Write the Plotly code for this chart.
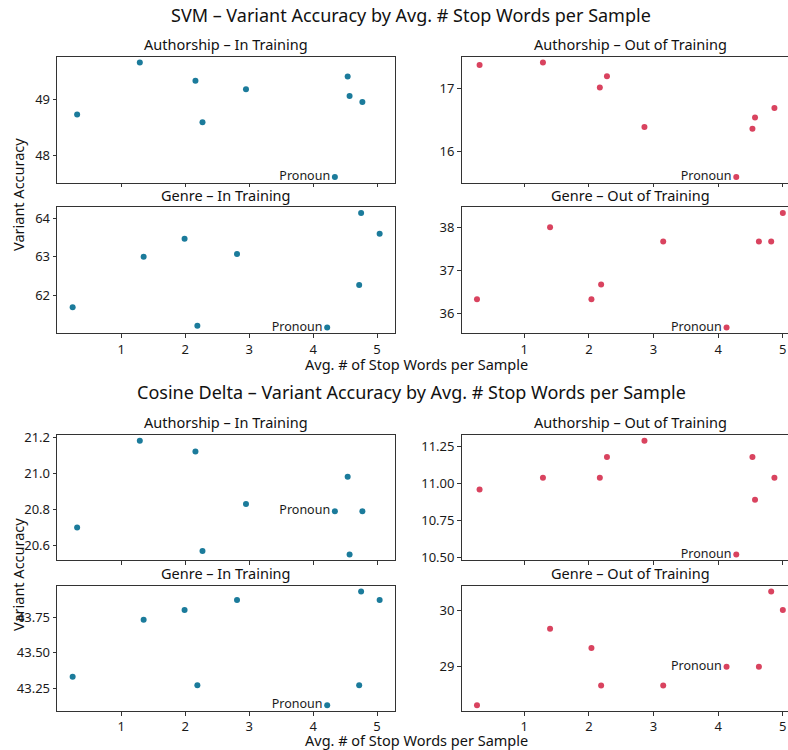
import plotly.graph_objects as go

# ---------------- data ----------------
# x: avg. # of stop words per sample; y: variant accuracy
svm_auth_in_x = [0.31, 1.29, 2.16, 2.27, 2.95, 4.34, 4.54, 4.57, 4.77]
svm_auth_in_y = [48.73, 49.66, 49.33, 48.59, 49.18, 47.61, 49.41, 49.06, 48.95]
svm_auth_in_lab = ["", "", "", "", "", "Pronoun", "", "", ""]

svm_auth_out_x = [0.31, 1.29, 2.17, 2.28, 2.86, 4.28, 4.53, 4.57, 4.87]
svm_auth_out_y = [17.38, 17.42, 17.02, 17.20, 16.39, 15.59, 16.36, 16.54, 16.69]
svm_auth_out_lab = ["", "", "", "", "", "Pronoun", "", "", ""]

svm_genre_in_x = [0.24, 1.35, 1.99, 2.19, 2.81, 4.22, 4.72, 4.75, 5.04]
svm_genre_in_y = [61.68, 63.00, 63.47, 61.20, 63.07, 61.15, 62.26, 64.14, 63.60]
svm_genre_in_lab = ["", "", "", "", "", "Pronoun", "", "", ""]

svm_genre_out_x = [0.27, 1.40, 2.04, 2.19, 3.15, 4.13, 4.63, 4.82, 5.00]
svm_genre_out_y = [36.33, 38.00, 36.33, 36.67, 37.67, 35.67, 37.67, 37.67, 38.33]
svm_genre_out_lab = ["", "", "", "", "", "Pronoun", "", "", ""]

cos_auth_in_x = [0.31, 1.29, 2.16, 2.27, 2.95, 4.34, 4.54, 4.57, 4.77]
cos_auth_in_y = [20.70, 21.18, 21.12, 20.57, 20.83, 20.79, 20.98, 20.55, 20.79]
cos_auth_in_lab = ["", "", "", "", "", "Pronoun", "", "", ""]

cos_auth_out_x = [0.31, 1.29, 2.17, 2.28, 2.86, 4.28, 4.53, 4.57, 4.87]
cos_auth_out_y = [10.96, 11.04, 11.04, 11.18, 11.29, 10.52, 11.18, 10.89, 11.04]
cos_auth_out_lab = ["", "", "", "", "", "Pronoun", "", "", ""]

cos_genre_in_x = [0.24, 1.35, 1.99, 2.19, 2.81, 4.22, 4.72, 4.75, 5.04]
cos_genre_in_y = [43.33, 43.73, 43.80, 43.27, 43.87, 43.13, 43.27, 43.93, 43.87]
cos_genre_in_lab = ["", "", "", "", "", "Pronoun", "", "", ""]

cos_genre_out_x = [0.27, 1.40, 2.04, 2.19, 3.15, 4.13, 4.63, 4.82, 5.00]
cos_genre_out_y = [28.32, 29.67, 29.33, 28.67, 28.67, 29.00, 29.00, 30.33, 30.00]
cos_genre_out_lab = ["", "", "", "", "", "Pronoun", "", "", ""]

suptitles = ["SVM – Variant Accuracy by Avg. # Stop Words per Sample",
             "Cosine Delta – Variant Accuracy by Avg. # Stop Words per Sample"]
panel_titles = ["Authorship – In Training", "Authorship – Out of Training",
                "Genre – In Training", "Genre – Out of Training"]
x_label = "Avg. # of Stop Words per Sample"
y_label = "Variant Accuracy"
x_ticks = [1, 2, 3, 4, 5]
y_ticks = [[48, 49], [16, 17], [61, 62, 63, 64], [36, 37, 38],
           [20.6, 20.8, 21.0, 21.2], [10.5, 10.75, 11.0, 11.25],
           [43.25, 43.5, 43.75], [29, 30]]
y_fmt = ["", "", "", "", ".1f", ".2f", ".2f", ""]

BLUE = "#1b7b9b"
RED = "#d9435f"
FONT = "Noto Sans"
W, H = 788, 750

panels = [
    # (x, y, labels, color, col, row)
    (svm_auth_in_x, svm_auth_in_y, svm_auth_in_lab, BLUE, 0, 0),
    (svm_auth_out_x, svm_auth_out_y, svm_auth_out_lab, RED, 1, 0),
    (svm_genre_in_x, svm_genre_in_y, svm_genre_in_lab, BLUE, 0, 1),
    (svm_genre_out_x, svm_genre_out_y, svm_genre_out_lab, RED, 1, 1),
    (cos_auth_in_x, cos_auth_in_y, cos_auth_in_lab, BLUE, 0, 2),
    (cos_auth_out_x, cos_auth_out_y, cos_auth_out_lab, RED, 1, 2),
    (cos_genre_in_x, cos_genre_in_y, cos_genre_in_lab, BLUE, 0, 3),
    (cos_genre_out_x, cos_genre_out_y, cos_genre_out_lab, RED, 1, 3),
]

# pixel layout (page coordinates)
row_px = [(56.7, 182.7), (207.3, 333.3), (435.0, 560.3), (585.7, 711.0)]
col_px = [(57.3, 395.0), (461.7, 788.0)]
# visible right limit of the right-hand column (axis continues past the page edge)
right_xrange_end = 5.08


def py(p):
    return 1 - p / H


def px(p):
    return min(max(p / W, 0.0), 1.0)


def ydom(r):
    t, b = row_px[r]
    return [py(b), py(t)]


def xdom(c):
    l, r = col_px[c]
    return [px(l), px(r)]


def padded(vals, frac=0.05):
    lo, hi = min(vals), max(vals)
    d = (hi - lo) * frac
    return [lo - d, hi + d]


fig = go.Figure()
layout = {}
AX = "#333333"
TXT = "#1a1a1a"
for i, (xs, ys, labs, color, col, row) in enumerate(panels):
    n = i + 1
    sfx = "" if n == 1 else str(n)
    grp = [p for p in panels if p[4] == col and (p[5] // 2) == (row // 2)]
    allx = [v for p in grp for v in p[0]]
    xr = padded(allx)
    if col == 1:
        xr = [xr[0], right_xrange_end]
    fig.add_trace(go.Scatter(
        x=xs, y=ys, mode="markers+text", text=labs,
        textposition="middle left",
        textfont=dict(family=FONT, size=12.5, color=TXT),
        marker=dict(color=color, size=6, line=dict(width=0)),
        xaxis="x" + sfx, yaxis="y" + sfx, showlegend=False,
        cliponaxis=False,
    ))
    show_xlabels = row in (1, 3)
    layout["xaxis" + sfx] = dict(
        domain=xdom(col), anchor="y" + sfx, range=xr,
        tickvals=x_ticks, showticklabels=show_xlabels,
        ticks="outside", ticklen=3.5, tickwidth=1, tickcolor=AX,
        showline=True, linecolor=AX, linewidth=1.3, mirror=True,
        showgrid=False, zeroline=False, automargin=False,
        tickfont=dict(family=FONT, size=13, color=TXT),
    )
    layout["yaxis" + sfx] = dict(
        domain=ydom(row), anchor="x" + sfx, range=padded(ys),
        tickvals=y_ticks[i], tickformat=y_fmt[i],
        ticks="outside", ticklen=3.5, tickwidth=1, tickcolor=AX,
        showline=True, linecolor=AX, linewidth=1.3,
        mirror=(col == 0), showgrid=False, zeroline=False, automargin=False,
        tickfont=dict(family=FONT, size=13, color=TXT),
    )

annotations = []
for k, yp in enumerate([15, 392]):
    annotations.append(dict(text=suptitles[k], x=px(411), y=py(yp), xref="paper", yref="paper",
                            showarrow=False, xanchor="center", yanchor="middle",
                            font=dict(family=FONT, size=18, color="#111111")))
title_y = [44, 195, 422, 573]
title_x = [226, 630]
for row in range(4):
    for col in range(2):
        t = panel_titles[(row % 2) * 2 + col]
        annotations.append(dict(text=t, x=px(title_x[col]), y=py(title_y[row]), xref="paper", yref="paper",
                                showarrow=False, xanchor="center", yanchor="middle",
                                font=dict(family=FONT, size=14.5, color="#111111")))
for yp in [364, 740]:
    annotations.append(dict(text=x_label, x=px(417), y=py(yp), xref="paper", yref="paper",
                            showarrow=False, xanchor="center", yanchor="middle",
                            font=dict(family=FONT, size=14.5, color="#111111")))
for yp in [195, 575]:
    annotations.append(dict(text=y_label, x=px(18), y=py(yp), xref="paper", yref="paper",
                            showarrow=False, xanchor="center", yanchor="middle", textangle=-90,
                            font=dict(family=FONT, size=14.5, color="#111111")))

fig.update_layout(
    width=W, height=H,
    margin=dict(l=0, r=0, t=0, b=0, pad=0, autoexpand=False),
    plot_bgcolor="white", paper_bgcolor="white",
    annotations=annotations, **layout,
)
fig.write_html(
    "out.html",
    config={"displayModeBar": False, "responsive": False},
    post_script="document.body.style.margin='0';document.documentElement.style.overflow='hidden';",
)
